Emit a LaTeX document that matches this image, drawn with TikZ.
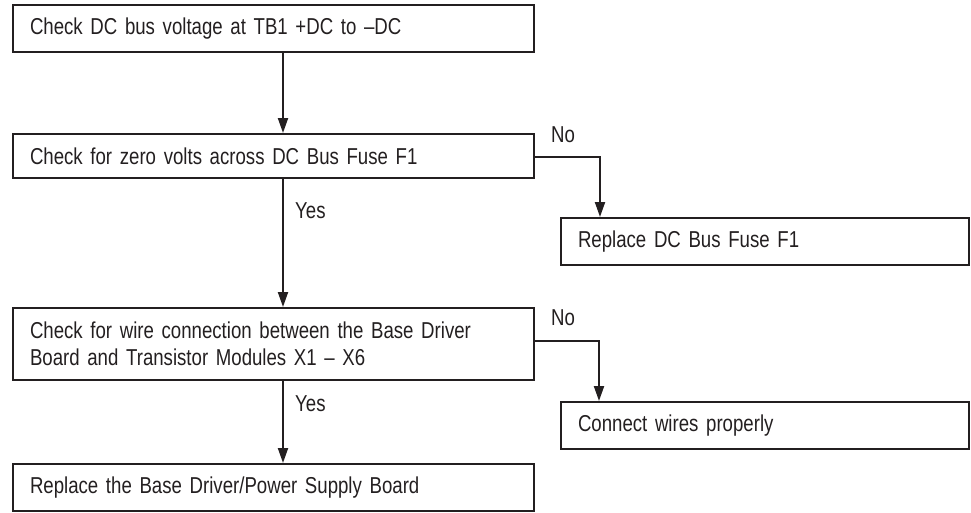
\documentclass[tikz,border=0pt]{standalone}
\usepackage{fontspec}
\setmainfont{Liberation Sans}[FakeStretch=0.81]
\usetikzlibrary{arrows.meta}
\definecolor{ink}{HTML}{231F20}
\newcommand{\boxfont}{\fontsize{23}{27}\selectfont\spaceskip=5.2pt plus 1pt minus 1pt\relax}
\tikzset{
  box/.style={draw=ink, text=ink, line width=2pt, anchor=north west,
    inner xsep=17pt, inner ysep=0pt, align=left, font=\boxfont},
  arr/.style={draw=ink, line width=2pt, -{Triangle[length=15pt,width=10pt]}},
  lbl/.style={text=ink, anchor=base west, inner sep=0pt, font=\boxfont}
}
\begin{document}
\begin{tikzpicture}[x=1pt,y=-1pt]
\useasboundingbox (0,0) rectangle (971,512);
\node[box, minimum width=521pt, minimum height=47pt, text width=487pt] (b1) at (12,4) {Check DC bus voltage at TB1 +DC to –DC};
\node[box, minimum width=521pt, minimum height=44pt, text width=487pt] (b2) at (12,133) {Check for zero volts across DC Bus Fuse F1};
\node[box, minimum width=408pt, minimum height=47pt, text width=374pt] (b3) at (560,217) {Replace DC Bus Fuse F1};
\node[box, minimum width=521pt, minimum height=72pt, text width=487pt] (b4) at (12,307) {Check for wire connection between the Base Driver\\Board and Transistor Modules X1 – X6};
\node[box, minimum width=408pt, minimum height=47pt, text width=374pt] (b5) at (560,401) {Connect wires properly};
\node[box, minimum width=521pt, minimum height=47pt, text width=487pt] (b6) at (12,463) {Replace the Base Driver/Power Supply Board};
\coordinate (xa) at (283,0);
\coordinate (n1) at (600,157);
\coordinate (n2) at (599,341);
\draw[arr] (b1.south -| xa) -- (b2.north -| xa);
\draw[arr] (b2.south -| xa) -- (b4.north -| xa);
\draw[arr] (b4.south -| xa) -- (b6.north -| xa);
\draw[arr] (b2.east |- n1) -| (b3.north -| n1);
\draw[arr] (b4.east |- n2) -| (b5.north -| n2);
\node[lbl] (no1) at (551,142) {No};
\node[lbl] (no2) at (551,325) {No};
\node[lbl] (yes1) at (295,218) {Yes};
\node[lbl] (yes2) at (295,411) {Yes};
\end{tikzpicture}
\end{document}
